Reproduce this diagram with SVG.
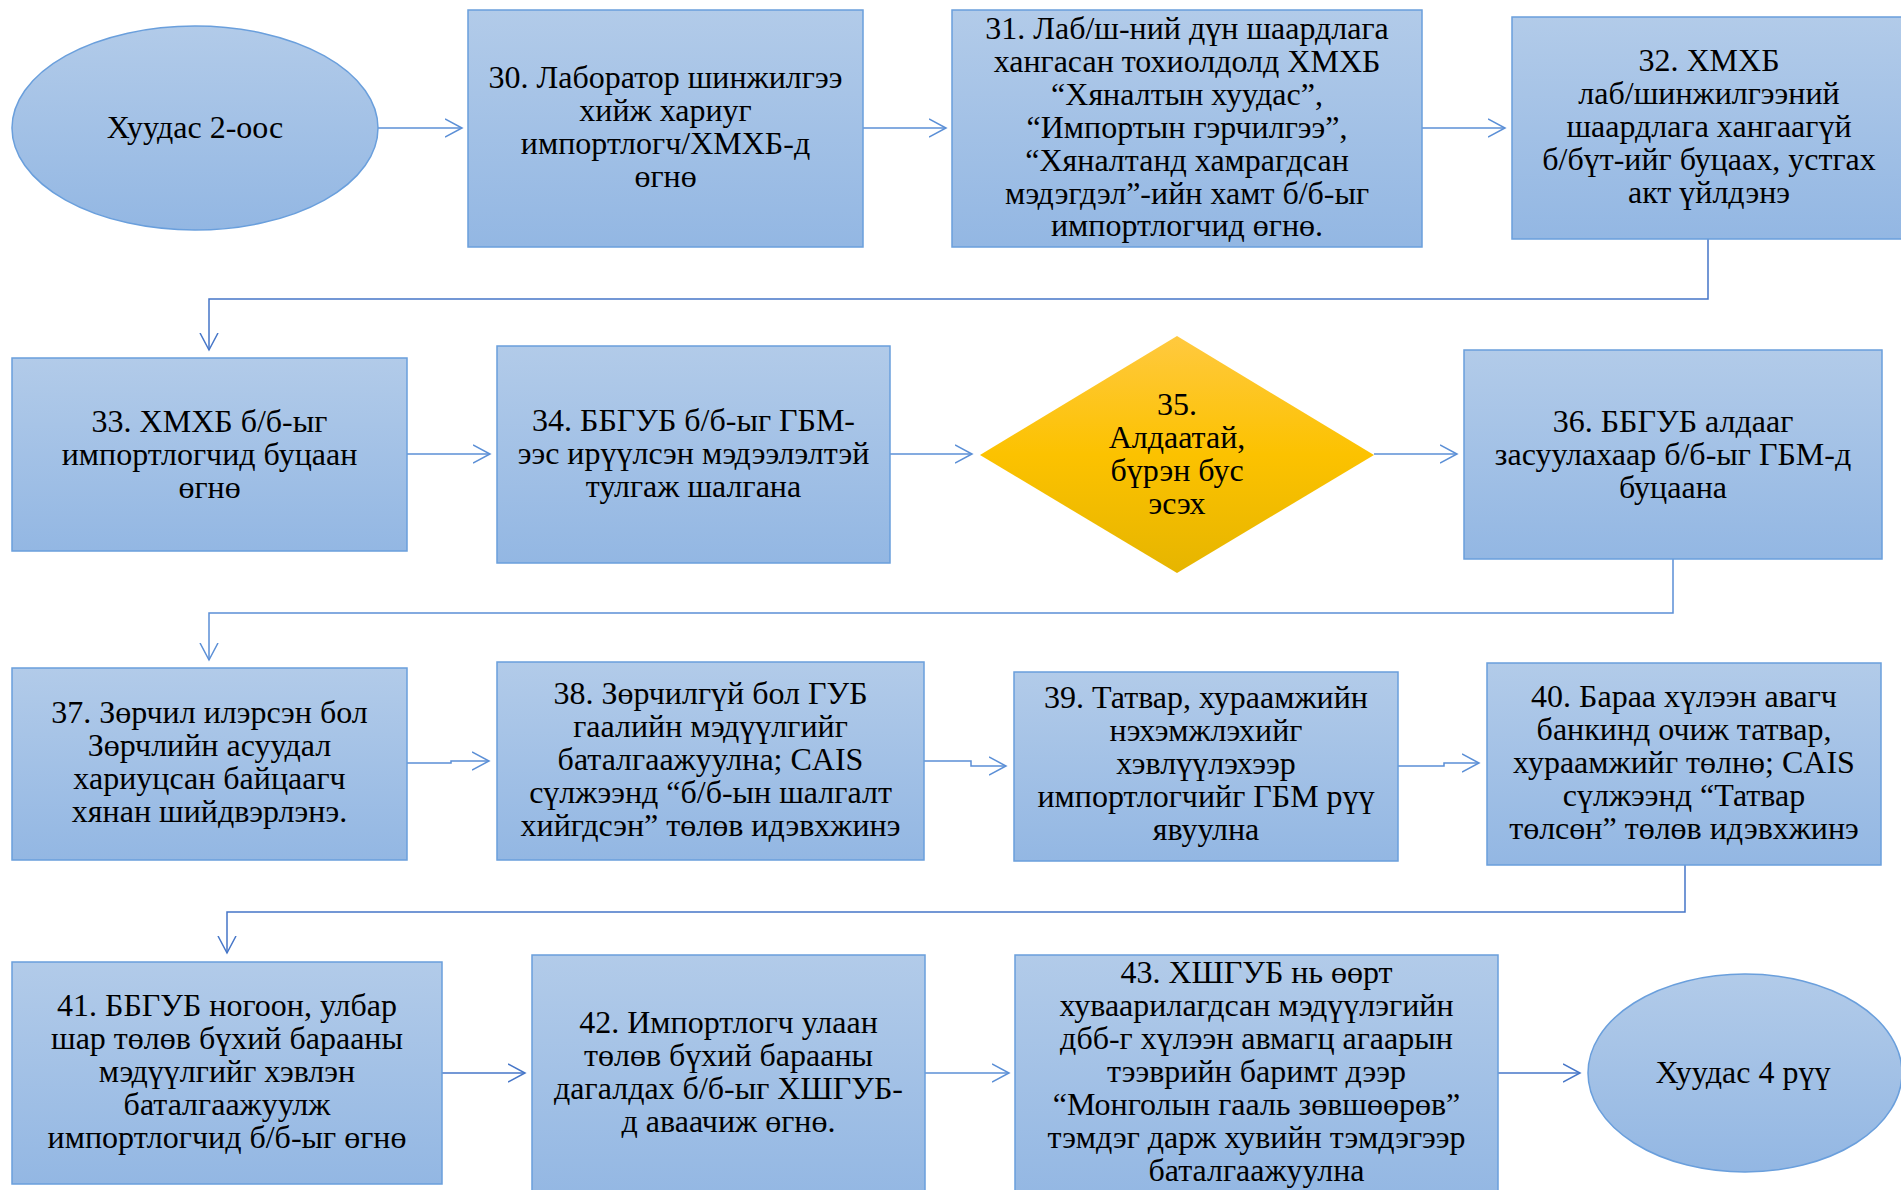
<svg xmlns="http://www.w3.org/2000/svg" width="1901" height="1190" viewBox="0 0 1901 1190">
<defs>
<linearGradient id="gBlue" x1="0" y1="0" x2="0" y2="1">
<stop offset="0" stop-color="#b2cbe9"/>
<stop offset="1" stop-color="#93b7e3"/>
</linearGradient>
<linearGradient id="gGold" x1="0" y1="0" x2="0" y2="1">
<stop offset="0" stop-color="#ffc93f"/>
<stop offset="0.5" stop-color="#fcc200"/>
<stop offset="1" stop-color="#e6b500"/>
</linearGradient>
<marker id="arr" markerUnits="userSpaceOnUse" markerWidth="20" markerHeight="22" refX="17" refY="10" orient="auto">
<path d="M0,1 L17,10 L0,19" fill="none" stroke="#5b8fd6" stroke-width="1.5"/>
</marker>
<marker id="arrD" markerUnits="userSpaceOnUse" markerWidth="20" markerHeight="22" refX="17" refY="10" orient="auto">
<path d="M0,1 L17,10 L0,19" fill="none" stroke="#4676c8" stroke-width="1.5"/>
</marker>
</defs>
<style>
.box{fill:url(#gBlue);stroke:#6a9fdc;stroke-width:1.5}
.dia{fill:url(#gGold);stroke:none}
.t{font-family:"Liberation Serif","Times New Roman",serif;font-size:32px;fill:#000;text-anchor:middle}
.c{fill:none;stroke:#5b8fd6;stroke-width:1.5;marker-end:url(#arr)}
.cd{fill:none;stroke:#4676c8;stroke-width:1.5;marker-end:url(#arrD)}
</style>
<rect width="1901" height="1190" fill="#ffffff"/>

<g id="connectors">
<path class="c" d="M378,128 H462"/>
<path class="c" d="M863,128 H946"/>
<path class="c" d="M1422,128 H1505"/>
<path class="cd" d="M1708,239 V299 H209 V350"/>
<path class="c" d="M407,454 H490"/>
<path class="c" d="M890,454 H972"/>
<path class="c" d="M1374,454 H1457"/>
<path class="c" d="M1673,559 V613 H209 V660"/>
<path class="c" d="M407,763 H451 V761 H489"/>
<path class="c" d="M924,761 H971 V766 H1006"/>
<path class="c" d="M1398,766 H1444 V763 H1479"/>
<path class="cd" d="M1685,865 V912 H227 V953"/>
<path class="cd" d="M442,1073 H525"/>
<path class="c" d="M925,1073 H1009"/>
<path class="cd" d="M1498,1073 H1580"/>
</g>

<g id="start">
<ellipse class="box" cx="195" cy="128" rx="183" ry="102"/>
<text class="t" x="195" y="138">Хуудас 2-оос</text>
</g>

<g id="n30">
<rect class="box" x="468" y="10" width="395" height="237"/>
<text class="t" x="665.5" y="88">30. Лаборатор шинжилгээ</text>
<text class="t" x="665.5" y="121">хийж хариуг</text>
<text class="t" x="665.5" y="154">импортлогч/ХМХБ-д</text>
<text class="t" x="665.5" y="187">өгнө</text>
</g>

<g id="n31">
<rect class="box" x="952" y="10" width="470" height="237"/>
<text class="t" x="1187" y="39">31. Лаб/ш-ний дүн шаардлага</text>
<text class="t" x="1187" y="72">хангасан тохиолдолд ХМХБ</text>
<text class="t" x="1187" y="105">“Хяналтын хуудас”,</text>
<text class="t" x="1187" y="138">“Импортын гэрчилгээ”,</text>
<text class="t" x="1187" y="171">“Хяналтанд хамрагдсан</text>
<text class="t" x="1187" y="204">мэдэгдэл”-ийн хамт б/б-ыг</text>
<text class="t" x="1187" y="236">импортлогчид өгнө.</text>
</g>

<g id="n32">
<rect class="box" x="1512" y="17" width="395" height="222"/>
<text class="t" x="1709" y="71">32. ХМХБ</text>
<text class="t" x="1709" y="104">лаб/шинжилгээний</text>
<text class="t" x="1709" y="137">шаардлага хангаагүй</text>
<text class="t" x="1709" y="170">б/бүт-ийг буцаах, устгах</text>
<text class="t" x="1709" y="203">акт үйлдэнэ</text>
</g>

<g id="n33">
<rect class="box" x="12" y="358" width="395" height="193"/>
<text class="t" x="209.5" y="432">33. ХМХБ б/б-ыг</text>
<text class="t" x="209.5" y="465">импортлогчид буцаан</text>
<text class="t" x="209.5" y="498">өгнө</text>
</g>

<g id="n34">
<rect class="box" x="497" y="346" width="393" height="217"/>
<text class="t" x="693.5" y="431">34. ББГУБ б/б-ыг ГБМ-</text>
<text class="t" x="693.5" y="464">ээс ирүүлсэн мэдээлэлтэй</text>
<text class="t" x="693.5" y="497">тулгаж шалгана</text>
</g>

<g id="n35">
<polygon class="dia" points="980,455 1177,336 1374,455 1177,573"/>
<text class="t" x="1177" y="415">35.</text>
<text class="t" x="1177" y="448">Алдаатай,</text>
<text class="t" x="1177" y="481">бүрэн бус</text>
<text class="t" x="1177" y="514">эсэх</text>
</g>

<g id="n36">
<rect class="box" x="1464" y="350" width="418" height="209"/>
<text class="t" x="1673" y="432">36. ББГУБ алдааг</text>
<text class="t" x="1673" y="465">засуулахаар б/б-ыг ГБМ-д</text>
<text class="t" x="1673" y="498">буцаана</text>
</g>

<g id="n37">
<rect class="box" x="12" y="668" width="395" height="192"/>
<text class="t" x="209.5" y="723">37. Зөрчил илэрсэн бол</text>
<text class="t" x="209.5" y="756">Зөрчлийн асуудал</text>
<text class="t" x="209.5" y="789">хариуцсан байцаагч</text>
<text class="t" x="209.5" y="822">хянан шийдвэрлэнэ.</text>
</g>

<g id="n38">
<rect class="box" x="497" y="662" width="427" height="198"/>
<text class="t" x="710.5" y="704">38. Зөрчилгүй бол ГУБ</text>
<text class="t" x="710.5" y="737">гаалийн мэдүүлгийг</text>
<text class="t" x="710.5" y="770">баталгаажуулна; CAIS</text>
<text class="t" x="710.5" y="803">сүлжээнд “б/б-ын шалгалт</text>
<text class="t" x="710.5" y="836">хийгдсэн” төлөв идэвхжинэ</text>
</g>

<g id="n39">
<rect class="box" x="1014" y="672" width="384" height="189"/>
<text class="t" x="1206" y="708">39. Татвар, хураамжийн</text>
<text class="t" x="1206" y="741">нэхэмжлэхийг</text>
<text class="t" x="1206" y="774">хэвлүүлэхээр</text>
<text class="t" x="1206" y="807">импортлогчийг ГБМ рүү</text>
<text class="t" x="1206" y="840">явуулна</text>
</g>

<g id="n40">
<rect class="box" x="1487" y="663" width="394" height="202"/>
<text class="t" x="1684" y="707">40. Бараа хүлээн авагч</text>
<text class="t" x="1684" y="740">банкинд очиж татвар,</text>
<text class="t" x="1684" y="773">хураамжийг төлнө; CAIS</text>
<text class="t" x="1684" y="806">сүлжээнд “Татвар</text>
<text class="t" x="1684" y="839">төлсөн” төлөв идэвхжинэ</text>
</g>

<g id="n41">
<rect class="box" x="12" y="962" width="430" height="222"/>
<text class="t" x="227" y="1016">41. ББГУБ ногоон, улбар</text>
<text class="t" x="227" y="1049">шар төлөв бүхий барааны</text>
<text class="t" x="227" y="1082">мэдүүлгийг хэвлэн</text>
<text class="t" x="227" y="1115">баталгаажуулж</text>
<text class="t" x="227" y="1148">импортлогчид б/б-ыг өгнө</text>
</g>

<g id="n42">
<rect class="box" x="532" y="955" width="393" height="245"/>
<text class="t" x="728.5" y="1033">42. Импортлогч улаан</text>
<text class="t" x="728.5" y="1066">төлөв бүхий барааны</text>
<text class="t" x="728.5" y="1099">дагалдах б/б-ыг ХШГУБ-</text>
<text class="t" x="728.5" y="1132">д аваачиж өгнө.</text>
</g>

<g id="n43">
<rect class="box" x="1015" y="955" width="483" height="245"/>
<text class="t" x="1256.5" y="983">43. ХШГУБ нь өөрт</text>
<text class="t" x="1256.5" y="1016">хуваарилагдсан мэдүүлэгийн</text>
<text class="t" x="1256.5" y="1049">дбб-г хүлээн авмагц агаарын</text>
<text class="t" x="1256.5" y="1082">тээврийн баримт дээр</text>
<text class="t" x="1256.5" y="1115">“Монголын гааль зөвшөөрөв”</text>
<text class="t" x="1256.5" y="1148">тэмдэг дарж хувийн тэмдэгээр</text>
<text class="t" x="1256.5" y="1181">баталгаажуулна</text>
</g>

<g id="end">
<ellipse class="box" cx="1745" cy="1073" rx="157" ry="99"/>
<text class="t" x="1743" y="1083">Хуудас 4 рүү</text>
</g>
</svg>
